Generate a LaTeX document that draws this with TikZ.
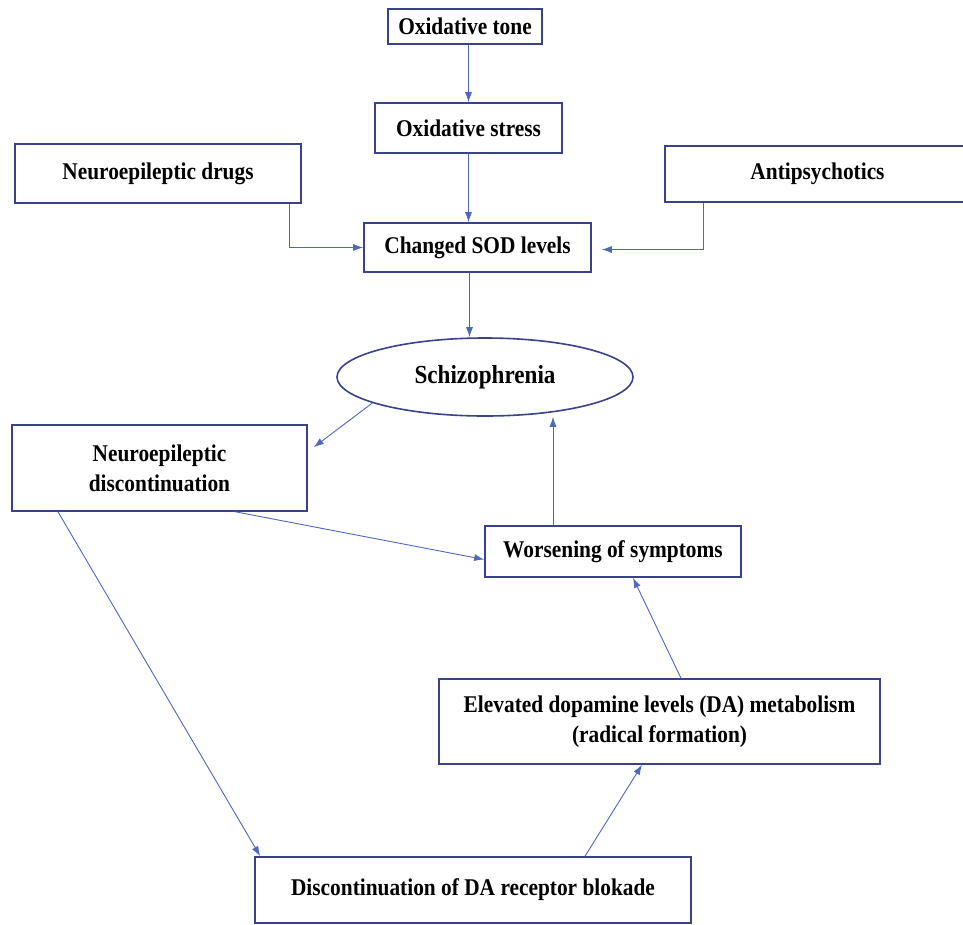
\documentclass[tikz,border=0pt]{standalone}
\usepackage{fontspec}
\setmainfont{Liberation Serif}[FakeStretch=0.89]
\usetikzlibrary{arrows.meta,shapes.geometric,calc}
\definecolor{boxblue}{RGB}{58,66,138}
\definecolor{arrblue}{RGB}{78,104,190}
\tikzset{
  box/.style={draw=boxblue,line width=1.6pt,fill=white,rectangle,inner sep=0pt,align=center,
    font=\fontsize{24}{30}\selectfont\bfseries},
  oval/.style={draw=boxblue,line width=1.6pt,ellipse,inner sep=0pt,
    font=\fontsize{26}{30}\selectfont\bfseries},
  conn/.style={draw=arrblue,line width=0.9pt,-{Latex[length=10pt,width=7pt]}},
}
\begin{document}
\begin{tikzpicture}[x=1pt,y=-1pt]
\clip (0,0) rectangle (963,924);
\fill[white] (0,0) rectangle (963,924);
\node[box,minimum width=154pt,minimum height=35pt] (tone) at (465,26.5) {Oxidative tone};
\node[box,minimum width=187pt,minimum height=50pt] (stress) at (468.5,128) {Oxidative stress};
\node[box,minimum width=286pt,minimum height=59pt] (drugs) at (158,173.5) {Neuroepileptic drugs};
\node[box,minimum width=305pt,minimum height=56pt] (anti) at (817.5,174) {Antipsychotics};
\node[box,minimum width=227pt,minimum height=49pt] (sod) at (477.5,247.5) {Changed SOD levels};
\node[oval,minimum width=296pt,minimum height=78pt] (schizo) at (485,377) {Schizophrenia};
\node[box,minimum width=295pt,minimum height=86pt] (nd) at (159.5,468) {Neuroepileptic\\discontinuation};
\node[box,minimum width=256pt,minimum height=51pt] (wors) at (613,551.5) {Worsening of symptoms};
\node[box,minimum width=441pt,minimum height=85pt] (elev) at (659.5,721.5) {Elevated dopamine levels (DA) metabolism\\(radical formation)};
\node[box,minimum width=436pt,minimum height=66pt] (blok) at (473,890) {Discontinuation of DA receptor blokade};

\draw[conn] (tone.south -| stress.north) -- (stress.north);
\draw[conn] (stress.south) -- (stress.south |- sod.north);
\draw[conn] ([xshift=-12pt]drugs.south east) |- (sod.west);
\draw[conn] ([xshift=39pt]anti.south west) |- ([xshift=10pt,yshift=-2pt]sod.east);
\draw[conn] ([xshift=-8pt]sod.south) -- ([xshift=-8pt]sod.south |- schizo.north);
\draw[conn] (schizo.193) -- ($(nd.north east)+(6,23)$);
\draw[conn] ([xshift=76pt]nd.south) -- ([yshift=-8pt]wors.west);
\draw[conn] ([xshift=-101.5pt]nd.south) -- ([xshift=6pt]blok.north west);
\draw[conn] ([xshift=112pt]blok.north) -- ([xshift=-17.5pt]elev.south);
\draw[conn] ([xshift=21.5pt]elev.north) -- ([xshift=20pt]wors.south);
\draw[conn] ([xshift=-60pt]wors.north) -- ([xshift=-60pt]wors.north |- schizo.south);
\end{tikzpicture}
\end{document}
